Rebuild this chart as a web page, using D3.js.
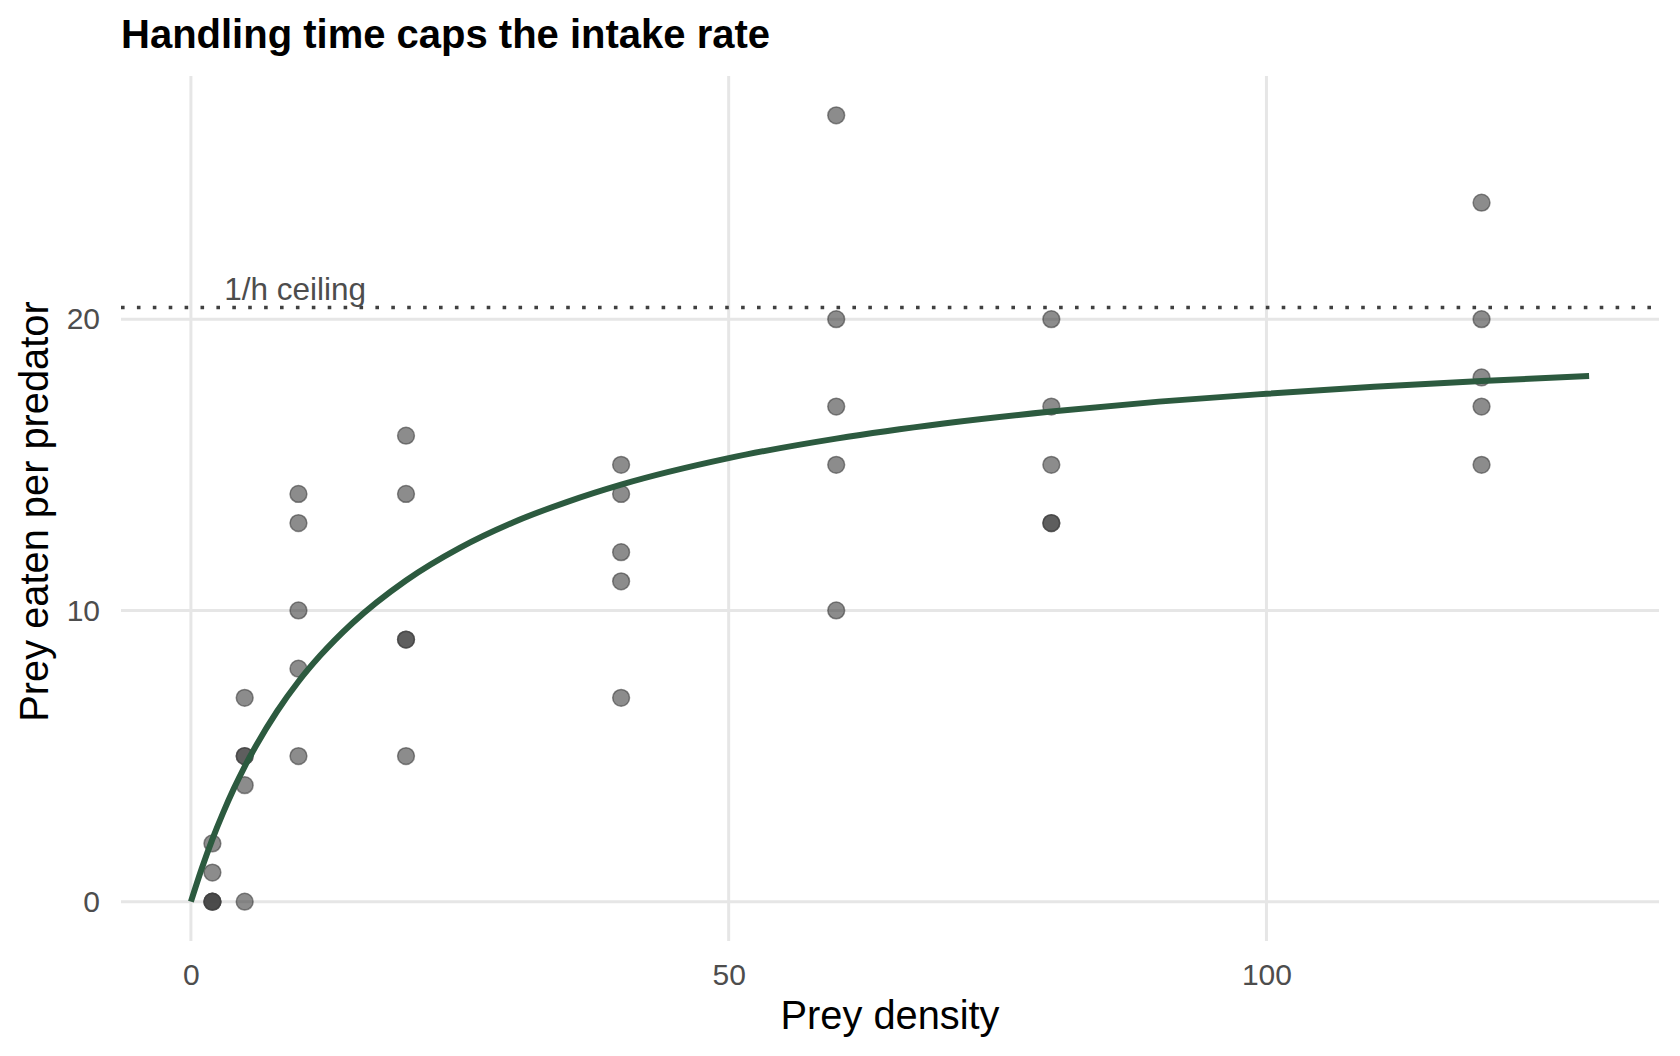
<!DOCTYPE html>
<html>
<head>
<meta charset="utf-8">
<script src="https://cdn.jsdelivr.net/npm/d3@7"></script>
<style>
  html, body { margin: 0; padding: 0; background: #ffffff; }
  svg { display: block; font-family: "Liberation Sans", Arial, Helvetica, sans-serif; }
</style>
</head>
<body>
<svg id="chart" width="1680" height="1056"></svg>
<script>
// ---- data ----
const preyDensity = [2, 2, 2, 2, 2,
                     5, 5, 5, 5, 5,
                     10, 10, 10, 10, 10,
                     20, 20, 20, 20, 20,
                     40, 40, 40, 40, 40,
                     60, 60, 60, 60, 60,
                     80, 80, 80, 80, 80,
                     120, 120, 120, 120, 120];
const preyEaten = [0, 0, 0, 1, 2,
                   0, 4, 5, 5, 7,
                   5, 8, 10, 13, 14,
                   5, 9, 9, 14, 16,
                   7, 11, 12, 14, 15,
                   10, 15, 17, 20, 27,
                   13, 13, 15, 17, 20,
                   15, 17, 18, 20, 24];
// fitted Holling type II curve
const curveX = [0, 1, 2, 3, 4, 5, 6, 8, 10, 12, 15, 20, 25, 30, 35, 40, 50, 60, 70, 80, 90, 100, 110, 120, 130];
const curveY = [0, 1.13, 2.15, 3.06, 3.89, 4.64, 5.32, 6.53, 7.56, 8.44, 9.56, 11.03, 12.15, 13.03, 13.73, 14.32, 15.23, 15.90, 16.42, 16.83, 17.17, 17.44, 17.68, 17.88, 18.05];
const ceilingValue = 20.4;
const ceilingLabel = "1/h ceiling";
const xTicks = [0, 50, 100];
const yTicks = [0, 10, 20];
const titleText = "Handling time caps the intake rate";
const xTitle = "Prey density";
const yTitle = "Prey eaten per predator";

// ---- layout ----
const panel = { left: 121, right: 1659, top: 76, bottom: 941 };
const svg = d3.select("#chart");

const x = d3.scaleLinear().domain([-6.5, 136.5]).range([panel.left, panel.right]);
const y = d3.scaleLinear().domain([-1.35, 28.35]).range([panel.bottom, panel.top]);

const gridColor = "#e6e6e6";

// gridlines
svg.append("g").selectAll("line").data(yTicks).join("line")
  .attr("x1", panel.left).attr("x2", panel.right)
  .attr("y1", d => y(d)).attr("y2", d => y(d))
  .attr("stroke", gridColor).attr("stroke-width", 3);
svg.append("g").selectAll("line").data(xTicks).join("line")
  .attr("y1", panel.top).attr("y2", panel.bottom)
  .attr("x1", d => x(d)).attr("x2", d => x(d))
  .attr("stroke", gridColor).attr("stroke-width", 3);

// axes
const xAxis = svg.append("g")
  .attr("transform", `translate(0,${panel.bottom})`)
  .call(d3.axisBottom(x).tickValues(xTicks).tickSize(0).tickPadding(23).tickFormat(d3.format("d")));
const yAxis = svg.append("g")
  .attr("transform", `translate(${panel.left},0)`)
  .call(d3.axisLeft(y).tickValues(yTicks).tickSize(0).tickPadding(21).tickFormat(d3.format("d")));
[xAxis, yAxis].forEach(g => {
  g.select(".domain").remove();
  g.selectAll("text")
    .attr("fill", "#4d4d4d")
    .style("font-size", "30px")
    .style("font-family", "\"Liberation Sans\", Arial, Helvetica, sans-serif");
});

// ceiling line
svg.append("line")
  .attr("x1", panel.left).attr("x2", panel.right)
  .attr("y1", y(ceilingValue)).attr("y2", y(ceilingValue))
  .attr("stroke", "#404040").attr("stroke-width", 3.4)
  .attr("stroke-dasharray", "3.6 12.3");

svg.append("text")
  .attr("x", x(3.1)).attr("y", y(ceilingValue) - 8)
  .attr("fill", "#4d4d4d").style("font-size", "31.5px")
  .text(ceilingLabel);

// points
const pts = preyDensity.map((d, i) => ({ x: d, y: preyEaten[i] }));
svg.append("g").selectAll("circle").data(pts).join("circle")
  .attr("cx", d => x(d.x)).attr("cy", d => y(d.y)).attr("r", 8.4)
  .attr("fill", "#404040").attr("fill-opacity", 0.6)
  .attr("stroke", "#404040").attr("stroke-opacity", 0.6).attr("stroke-width", 1.5);

// fitted curve
const curvePts = curveX.map((d, i) => [d, curveY[i]]);
svg.append("path")
  .datum(curvePts)
  .attr("d", d3.line().x(d => x(d[0])).y(d => y(d[1])).curve(d3.curveMonotoneX))
  .attr("fill", "none").attr("stroke", "#2c5a3f").attr("stroke-width", 6);

// titles
svg.append("text")
  .attr("x", panel.left).attr("y", 48)
  .attr("fill", "#000").style("font-size", "40px").style("font-weight", "bold")
  .text(titleText);

svg.append("text")
  .attr("x", (panel.left + panel.right) / 2).attr("y", 1029)
  .attr("text-anchor", "middle").attr("fill", "#000").style("font-size", "39.8px")
  .text(xTitle);

svg.append("text")
  .attr("transform", `translate(48,${(panel.top + panel.bottom) / 2 + 3}) rotate(-90)`)
  .attr("text-anchor", "middle").attr("fill", "#000").style("font-size", "39.8px")
  .text(yTitle);
</script>
</body>
</html>
